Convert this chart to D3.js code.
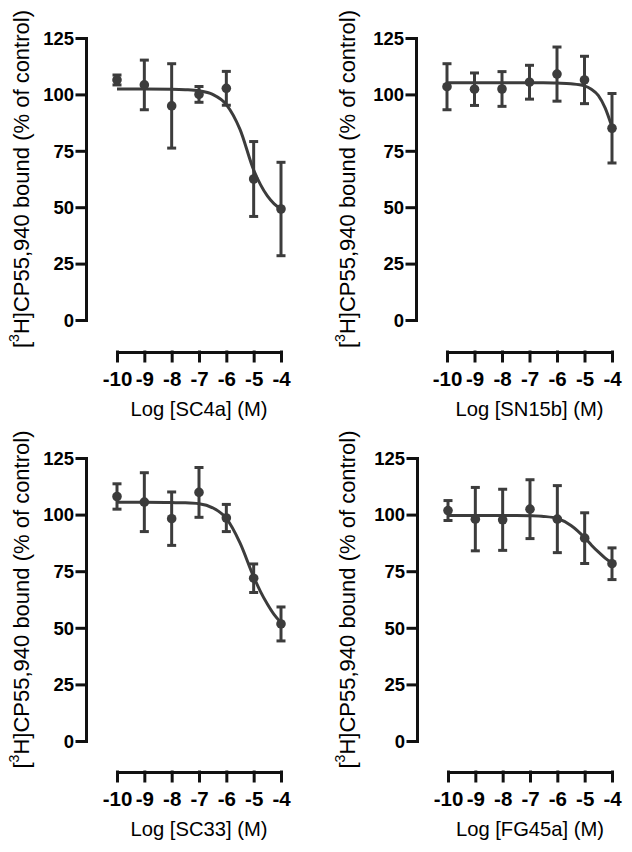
<!DOCTYPE html>
<html>
<head>
<meta charset="utf-8">
<script src="https://cdn.jsdelivr.net/npm/d3@7"></script>
<style>
  html, body { margin: 0; padding: 0; background: #fff; }
  svg { display: block; }
</style>
</head>
<body>
<svg id="chart" width="632" height="852"></svg>
<script>
// ---------- data ----------
const logConc = [-10, -9, -8, -7, -6, -5, -4];
const yTicks = [0, 25, 50, 75, 100, 125];
const compounds = ["SC4a", "SN15b", "SC33", "FG45a"];

const sc4aMean  = [106.4, 104.2, 94.9, 100.0, 102.7, 62.5, 49.2];
const sc4aErr   = [2.2, 11.0, 18.7, 3.5, 7.5, 16.6, 20.7];
const sn15bMean = [103.4, 102.3, 102.4, 105.4, 109.0, 106.4, 85.0];
const sn15bErr  = [10.2, 7.2, 7.7, 7.5, 12.0, 10.5, 15.4];
const sc33Mean  = [108.0, 105.5, 98.2, 109.8, 98.5, 71.9, 51.7];
const sc33Err   = [5.6, 13.0, 11.8, 11.0, 6.0, 6.3, 7.5];
const fg45aMean = [101.8, 98.0, 97.7, 102.4, 98.0, 89.6, 78.3];
const fg45aErr  = [4.4, 14.0, 13.5, 13.0, 14.8, 11.2, 7.0];

// fitted curves
const fitX     = [-10, -9, -8, -7.5, -7, -6.5, -6, -5.5, -5, -4.75, -4.5, -4.25, -4];
const sc4aFit  = [102.4, 102.4, 102.3, 102.1, 101.6, 100.0, 95.5, 84.5, 66.5, 60.0, 55.0, 51.5, 49.2];
const sn15bFit = [105.2, 105.2, 105.2, 105.2, 105.2, 105.2, 105.0, 104.7, 103.8, 102.3, 99.6, 94.0, 85.5];
const sc33Fit  = [105.4, 105.4, 105.3, 105.2, 104.8, 103.0, 98.3, 87.5, 72.5, 66.0, 60.5, 55.8, 52.3];
const fg45aFit = [99.6, 99.6, 99.6, 99.6, 99.5, 99.2, 98.3, 95.2, 89.8, 86.5, 83.5, 80.8, 78.6];

const means = [sc4aMean, sn15bMean, sc33Mean, fg45aMean];
const errs  = [sc4aErr, sn15bErr, sc33Err, fg45aErr];
const fits  = [sc4aFit, sn15bFit, sc33Fit, fg45aFit];

// ---------- layout ----------
const layout = [
  { yAxisX: 86,  x0: 117, x1: 281, yTop: 38,  yBot: 320, xAxisY: 352, labelCx: 21 },
  { yAxisX: 416, x0: 447, x1: 612, yTop: 38,  yBot: 320, xAxisY: 352, labelCx: 347 },
  { yAxisX: 86,  x0: 117, x1: 281, yTop: 458, yBot: 741, xAxisY: 772, labelCx: 21 },
  { yAxisX: 417, x0: 448, x1: 612, yTop: 458, yBot: 741, xAxisY: 772, labelCx: 347 }
];

const dataColor = "#3c3c3c";
const axisColor = "#111";
const font = "Arial, Liberation Sans, Helvetica, sans-serif";

const svg = d3.select("#chart");

compounds.forEach((name, i) => {
  const L = layout[i];
  const x = d3.scaleLinear().domain([-10, -4]).range([L.x0, L.x1]);
  const y = d3.scaleLinear().domain([0, 125]).range([L.yBot, L.yTop]);
  const g = svg.append("g");

  // y axis
  const ya = g.append("g")
    .attr("transform", `translate(${L.yAxisX},0)`)
    .call(d3.axisLeft(y).tickValues(yTicks).tickSize(9).tickSizeOuter(0).tickPadding(3).tickFormat(d => String(d)));
  ya.attr("font-family", null).attr("font-size", null);
  ya.selectAll("path, line").attr("stroke", axisColor).attr("stroke-width", 3).attr("stroke-linecap", "square");
  ya.selectAll("text").style("font-family", font).style("font-size", "18.5px").style("font-weight", "700").attr("fill", "#000").attr("dy", "0.34em");

  // x axis
  const xa = g.append("g")
    .attr("transform", `translate(0,${L.xAxisY})`)
    .call(d3.axisBottom(x).tickValues(logConc).tickSize(9).tickSizeOuter(0).tickFormat(d => String(d)));
  xa.attr("font-family", null).attr("font-size", null);
  xa.selectAll("path, line").attr("stroke", axisColor).attr("stroke-width", 3).attr("stroke-linecap", "square");
  xa.selectAll("text").style("font-family", font).style("font-size", "20.5px").style("font-weight", "700").attr("fill", "#000")
    .attr("y", 34).attr("dy", null);

  // x axis title
  g.append("text")
    .attr("x", (L.x0 + L.x1) / 2)
    .attr("y", L.xAxisY + 64)
    .attr("text-anchor", "middle")
    .style("font-family", font).style("font-size", "20.2px").attr("fill", "#000")
    .text(`Log [${name}] (M)`);

  // y axis title
  const yl = g.append("text")
    .attr("transform", `translate(${L.labelCx},${(L.yTop + L.yBot) / 2}) rotate(-90)`)
    .attr("text-anchor", "middle")
    .attr("dy", "0.35em")
    .style("font-family", font).style("font-size", "22px").attr("fill", "#000");
  yl.append("tspan").text("[");
  yl.append("tspan").style("font-size", "14px").attr("dy", "-0.7em").text("3");
  yl.append("tspan").attr("dy", "0.45em").text("H]CP55,940 bound (% of control)");

  // fitted curve
  const line = d3.line().x(d => x(d[0])).y(d => y(d[1])).curve(d3.curveMonotoneX);
  g.append("path")
    .datum(fitX.map((v, k) => [v, fits[i][k]]))
    .attr("d", line)
    .attr("fill", "none").attr("stroke", dataColor).attr("stroke-width", 3);

  // error bars
  const pts = logConc.map((c, k) => ({ c, m: means[i][k], e: errs[i][k] }));
  const eb = g.append("g").attr("stroke", dataColor).attr("stroke-width", 3);
  eb.selectAll("line.v").data(pts).join("line").attr("class", "v")
    .attr("x1", d => x(d.c)).attr("x2", d => x(d.c))
    .attr("y1", d => y(d.m + d.e)).attr("y2", d => y(d.m - d.e));
  eb.selectAll("line.t").data(pts).join("line").attr("class", "t")
    .attr("x1", d => x(d.c) - 4.5).attr("x2", d => x(d.c) + 4.5)
    .attr("y1", d => y(d.m + d.e)).attr("y2", d => y(d.m + d.e));
  eb.selectAll("line.b").data(pts).join("line").attr("class", "b")
    .attr("x1", d => x(d.c) - 4.5).attr("x2", d => x(d.c) + 4.5)
    .attr("y1", d => y(d.m - d.e)).attr("y2", d => y(d.m - d.e));

  // markers
  g.selectAll("circle").data(pts).join("circle")
    .attr("cx", d => x(d.c)).attr("cy", d => y(d.m)).attr("r", 4.8)
    .attr("fill", dataColor);
});
</script>
</body>
</html>
